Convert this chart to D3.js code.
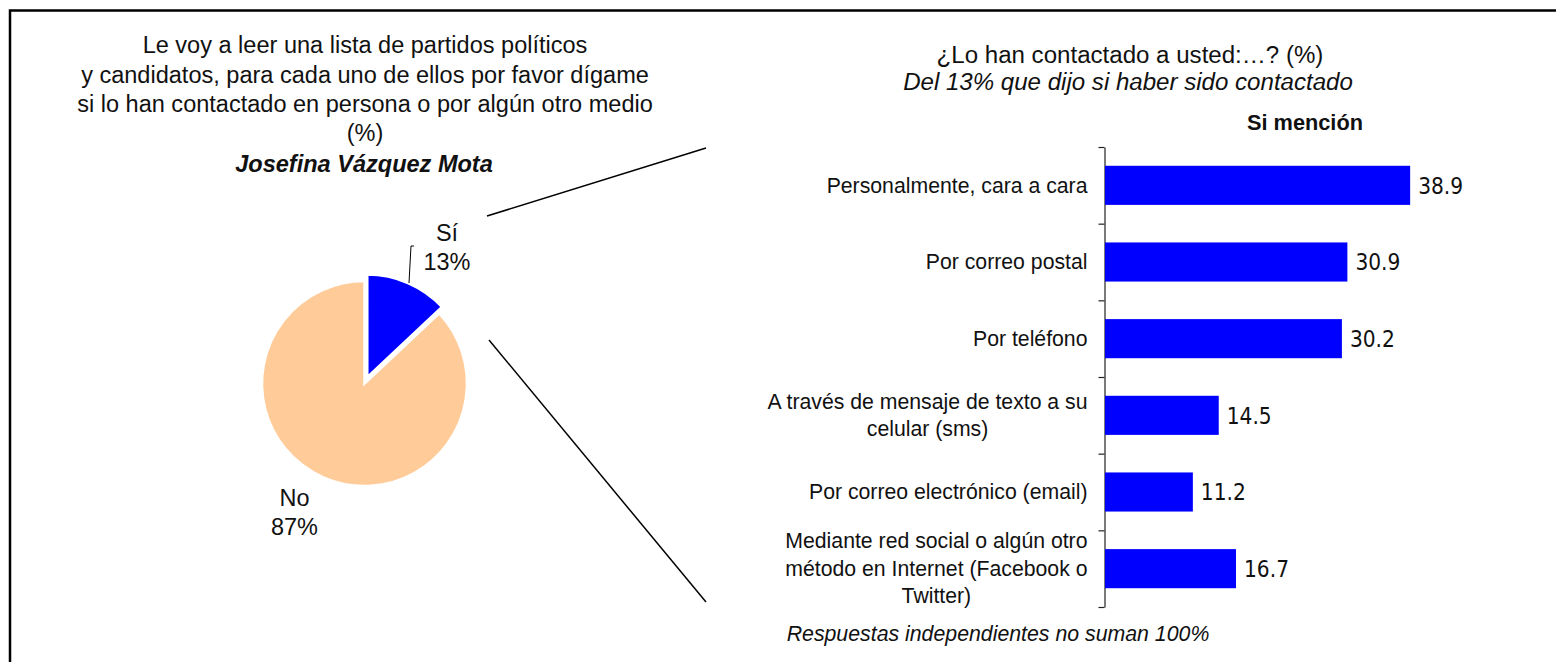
<!DOCTYPE html>
<html><head><meta charset="utf-8">
<script src="https://cdn.jsdelivr.net/npm/d3@7"></script>
<style>body{margin:0;background:#fff}svg{display:block}</style>
</head><body>
<script>
const pieLabels = ["Sí", "No"];
const pieValues = [13, 87];
const pieColors = ["#0000FF", "#FFCC99"];
const categories = [
  ["Personalmente, cara a cara"],
  ["Por correo postal"],
  ["Por teléfono"],
  ["A través de mensaje de texto a su", "celular (sms)"],
  ["Por correo electrónico (email)"],
  ["Mediante red social o algún otro", "método en Internet (Facebook o", "Twitter)"]
];
const barValues = [38.9, 30.9, 30.2, 14.5, 11.2, 16.7];
const leftTitle = ["Le voy a leer una lista de partidos políticos",
  "y candidatos, para cada uno de ellos por favor dígame",
  "si lo han contactado en persona o por algún otro medio", "(%)"];

const W = 1556, H = 662;
const svg = d3.select("body").append("svg").attr("width", W).attr("height", H);
const sans = "Liberation Sans, Arial, sans-serif";

// font size needed for a string to reach a target width
function fitSize(text, target, opts = {}) {
  const t = svg.append("text").attr("font-family", opts.family || sans).attr("font-size", 100)
    .attr("font-weight", opts.weight || "normal").attr("font-style", opts.style || "normal").text(text);
  const w = t.node().getComputedTextLength();
  t.remove();
  return 100 * target / w;
}

// frame
svg.append("rect").attr("x", 10).attr("y", 10.5).attr("width", 1600).attr("height", 700)
  .attr("fill", "none").attr("stroke", "#000").attr("stroke-width", 2.5);

// left title
const ltSize = fitSize(leftTitle[0], 445);
const lt = svg.append("g").attr("font-family", sans).attr("font-size", ltSize).attr("text-anchor", "middle").attr("fill", "#111");
const ltY = [53, 83, 112, 141];
leftTitle.forEach((t, i) => lt.append("text").attr("x", 365).attr("y", ltY[i]).text(t));
lt.append("text").attr("x", 364).attr("y", 172).attr("font-weight", "bold").attr("font-style", "italic").text("Josefina Vázquez Mota");

// pie
const cx = 364.5, cy = 383.5, r = 102.5;
const pie = d3.pie().sort(null)(pieValues);
const arc = d3.arc().innerRadius(0).outerRadius(r);
const pg = svg.append("g").attr("transform", `translate(${cx},${cy})`);
pg.selectAll("path").data(pie).join("path")
  .attr("d", arc)
  .attr("fill", (d, i) => pieColors[i])
  .attr("stroke", "#fff").attr("stroke-width", 2.5)
  .attr("transform", (d, i) => {
    if (i !== 0) return null;
    const a = (d.startAngle + d.endAngle) / 2, off = 7;
    return `translate(${off * Math.sin(a)},${-off * Math.cos(a)})`;
  });

// pie labels
const plSize = fitSize("87%", 47);
const pl = svg.append("g").attr("font-family", sans).attr("font-size", plSize).attr("text-anchor", "middle").attr("fill", "#111");
pl.append("text").attr("x", 447).attr("y", 241).text(pieLabels[0]);
pl.append("text").attr("x", 447).attr("y", 270).text(pieValues[0] + "%");
pl.append("text").attr("x", 294.5).attr("y", 506).text(pieLabels[1]);
pl.append("text").attr("x", 294.5).attr("y", 535).text(pieValues[1] + "%");
svg.append("path").attr("d", "M414,246 L411,246 L409,283").attr("fill", "none").attr("stroke", "#000").attr("stroke-width", 1);

// connector lines
svg.append("line").attr("x1", 487).attr("y1", 216).attr("x2", 706).attr("y2", 148).attr("stroke", "#000").attr("stroke-width", 1.5);
svg.append("line").attr("x1", 489).attr("y1", 340).attr("x2", 706).attr("y2", 602).attr("stroke", "#000").attr("stroke-width", 1.5);

// right titles
const rt1 = "¿Lo han contactado a usted:…? (%)";
const rt2 = "Del 13% que dijo si haber sido contactado";
const rtSize = fitSize(rt2, 450, { style: "italic" });
const rt = svg.append("g").attr("font-family", sans).attr("font-size", rtSize).attr("text-anchor", "middle").attr("fill", "#111");
rt.append("text").attr("x", 1130).attr("y", 63).text(rt1);
rt.append("text").attr("x", 1128).attr("y", 90).attr("font-style", "italic").text(rt2);
const smSize = fitSize("Si mención", 116, { weight: "bold" });
svg.append("text").attr("x", 1305).attr("y", 130).attr("font-family", sans).attr("font-size", smSize)
  .attr("font-weight", "bold").attr("text-anchor", "middle").attr("fill", "#111").text("Si mención");

// bars
const x0 = 1105;
const x = d3.scaleLinear().domain([0, 45]).range([x0, x0 + 353]);
const y = d3.scaleBand().domain(d3.range(categories.length)).range([147, 607]).paddingInner(0.49).paddingOuter(0.245);
const yAxisScale = d3.scaleLinear().domain([0, categories.length]).range([147, 607]);
const axisG = svg.append("g").attr("transform", `translate(${x0 - 0.5},0)`)
  .call(d3.axisLeft(yAxisScale).tickValues(d3.range(categories.length + 1)).tickSize(6).tickSizeOuter(0).tickFormat(""));
axisG.select(".domain").attr("stroke", "#222").attr("stroke-width", 1.2);
axisG.selectAll(".tick line").attr("stroke", "#222").attr("stroke-width", 1.2);

svg.append("g").selectAll("rect").data(barValues).join("rect")
  .attr("x", x0).attr("y", (d, i) => y(i)).attr("height", y.bandwidth())
  .attr("width", d => x(d) - x0).attr("fill", "#0000FF");

// value labels: taller glyphs, horizontally condensed to match reference width
const vFam = "DejaVu Sans, Verdana, sans-serif";
const vFont = 23;
const vScale = fitSize("38.9", 45, { family: vFam }) / vFont;
svg.append("g").attr("font-family", vFam).attr("font-size", vFont).attr("fill", "#111")
  .selectAll("text").data(barValues).join("text")
  .attr("transform", (d, i) => `translate(${x(d) + 8},${y(i) + y.bandwidth() / 2}) scale(${vScale},1)`)
  .attr("dy", "0.36em")
  .text(d => d.toFixed(1));

// category labels
const cSize = fitSize(categories[0][0], 261);
const cg = svg.append("g").attr("font-family", sans).attr("font-size", cSize).attr("fill", "#111");
categories.forEach((lines, i) => {
  const g = cg.append("g");
  const cyy = y(i) + y.bandwidth() / 2;
  const lh = 27.5;
  const ts = lines.map((l, j) => g.append("text").attr("y", cyy + (j - (lines.length - 1) / 2) * lh).attr("dy", "0.34em").attr("text-anchor", "middle").text(l));
  const mw = d3.max(ts, t => t.node().getComputedTextLength());
  ts.forEach(t => t.attr("x", 1087.5 - mw / 2));
});

const fn = "Respuestas independientes no suman 100%";
svg.append("text").attr("x", 998).attr("y", 641).attr("font-family", sans).attr("font-size", fitSize(fn, 423, { style: "italic" }))
  .attr("font-style", "italic").attr("text-anchor", "middle").attr("fill", "#111").text(fn);
</script>
</body></html>
